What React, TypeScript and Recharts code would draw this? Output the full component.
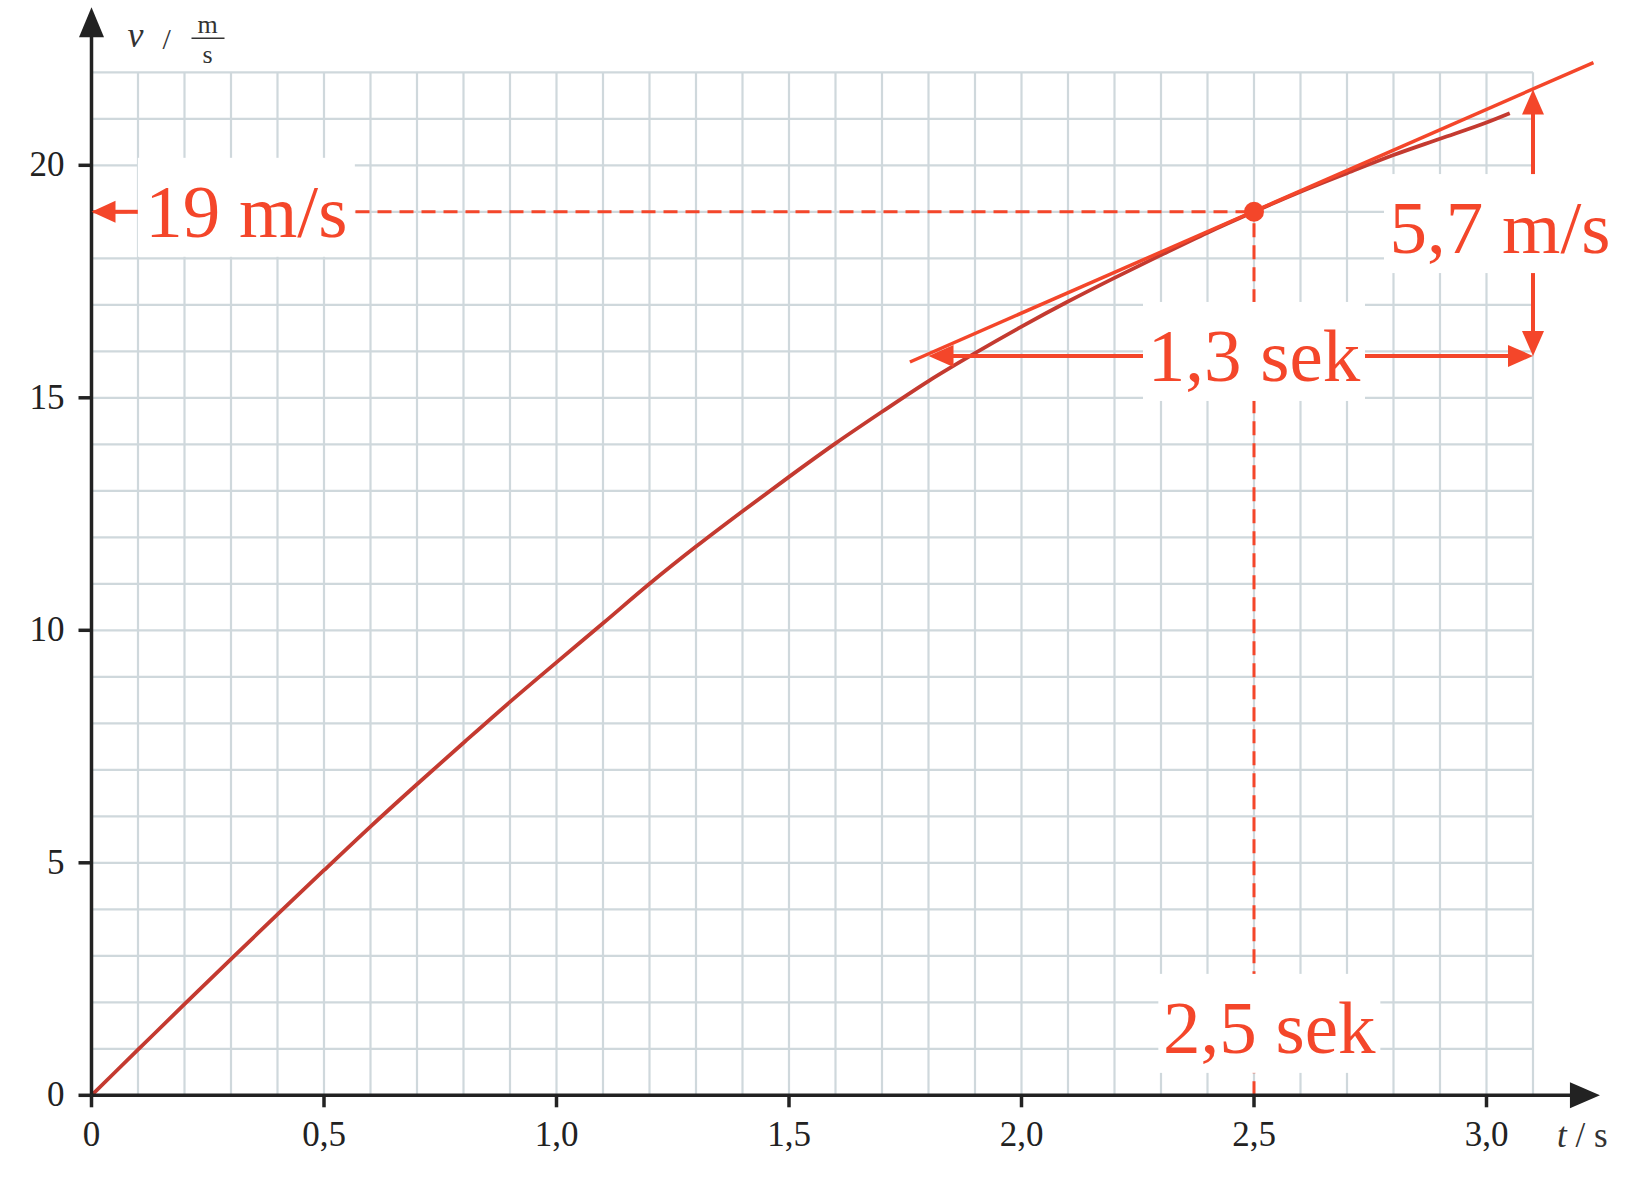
import React from 'react';
import {
  LineChart,
  Line,
  XAxis,
  YAxis,
  CartesianGrid,
  ReferenceLine,
  ReferenceDot
} from 'recharts';

// velocity curve (t in s, v in m/s)
const times = [0, 0.1, 0.2, 0.3, 0.4, 0.5, 0.6, 0.7, 0.8, 0.9, 1.0, 1.1, 1.2, 1.3, 1.4, 1.5, 1.6, 1.7, 1.8, 1.9, 2.0, 2.1, 2.2, 2.3, 2.4, 2.5, 2.6, 2.7, 2.8, 2.9, 3.0, 3.05];
const speeds = [0, 0.98, 1.96, 2.93, 3.89, 4.84, 5.78, 6.69, 7.58, 8.46, 9.31, 10.15, 11.0, 11.8, 12.56, 13.3, 14.02, 14.7, 15.36, 15.96, 16.53, 17.07, 17.58, 18.07, 18.55, 19.0, 19.43, 19.83, 20.22, 20.57, 20.92, 21.12];

// grid lines (every 0.1 s and every 1 m/s)
const xGridTicks = [0, 0.1, 0.2, 0.3, 0.4, 0.5, 0.6, 0.7, 0.8, 0.9, 1.0, 1.1, 1.2, 1.3, 1.4, 1.5, 1.6, 1.7, 1.8, 1.9, 2.0, 2.1, 2.2, 2.3, 2.4, 2.5, 2.6, 2.7, 2.8, 2.9, 3.0, 3.1];
const yGridTicks = [0, 1, 2, 3, 4, 5, 6, 7, 8, 9, 10, 11, 12, 13, 14, 15, 16, 17, 18, 19, 20, 21, 22];

const xMajorTicks = [0, 0.5, 1.0, 1.5, 2.0, 2.5, 3.0];
const xTickLabels = ['0', '0,5', '1,0', '1,5', '2,0', '2,5', '3,0'];
const yMajorTicks = [0, 5, 10, 15, 20];
const yTickLabels = ['0', '5', '10', '15', '20'];

// tangent at t = 2,5 s and the slope triangle
const pointT = 2.5;
const pointV = 19;
const tangentStart = { t: 1.76, v: 15.77 };
const tangentEnd = { t: 3.23, v: 22.21 };
const triangleLeftT = 1.8;
const triangleRightT = 3.1;
const triangleBottomV = 15.9;
const triangleTopV = 21.63;

// arrow tips of the axes
const xAxisEnd = 3.244;
const yAxisEnd = 23.4;

const chartData = times.map((t, i) => ({ t, v: speeds[i] }));

const RED = '#f4462a';
const CURVE = '#c43a30';
const INK = '#222';
const GRID = '#cfd8dc';
const SERIF = '"Liberation Serif", "Times New Roman", serif';

const near = (a: number, b: number) => Math.abs(a - b) < 1e-6;

const XTick = (props: any) => {
  const { x, y, payload } = props;
  const idx = xMajorTicks.findIndex((m) => near(m, payload.value));
  if (idx < 0) return <g />;
  return (
    <g>
      <line x1={x} y1={y} x2={x} y2={y + 12} stroke={INK} strokeWidth={3.5} />
      <text x={x} y={y + 51} textAnchor="middle" fontFamily={SERIF} fontSize={35} fill={INK}>
        {xTickLabels[idx]}
      </text>
    </g>
  );
};

const YTick = (props: any) => {
  const { x, y, payload } = props;
  const idx = yMajorTicks.findIndex((m) => near(m, payload.value));
  if (idx < 0) return <g />;
  return (
    <g>
      <line x1={x} y1={y} x2={x - 13} y2={y} stroke={INK} strokeWidth={3.5} />
      <text x={x - 27} y={y + 11} textAnchor="end" fontFamily={SERIF} fontSize={35} fill={INK}>
        {yTickLabels[idx]}
      </text>
    </g>
  );
};

// line with arrow head(s), drawn from the endpoints that ReferenceLine computes
const arrowShape = (both: boolean, color: string, width: number, headLen: number, headHalf: number) => (p: any) => {
  const x1 = Number(p.x1), y1 = Number(p.y1), x2 = Number(p.x2), y2 = Number(p.y2);
  const len = Math.hypot(x2 - x1, y2 - y1) || 1;
  const ux = (x2 - x1) / len;
  const uy = (y2 - y1) / len;
  const head = (tx: number, ty: number, dx: number, dy: number) => {
    const bx = tx - dx * headLen;
    const by = ty - dy * headLen;
    return `${tx},${ty} ${bx - dy * headHalf},${by + dx * headHalf} ${bx + dy * headHalf},${by - dx * headHalf}`;
  };
  const sx = both ? x1 + ux * headLen * 0.7 : x1;
  const sy = both ? y1 + uy * headLen * 0.7 : y1;
  return (
    <g>
      <line x1={sx} y1={sy} x2={x2 - ux * headLen * 0.7} y2={y2 - uy * headLen * 0.7} stroke={color} strokeWidth={width} />
      <polygon points={head(x2, y2, ux, uy)} fill={color} />
      {both && <polygon points={head(x1, y1, -ux, -uy)} fill={color} />}
    </g>
  );
};

const boxLabel = (text: string, boxWidth: number) => (p: any) => (
  <g>
    <rect x={p.cx - boxWidth / 2} y={p.cy - 54} width={boxWidth} height={99} fill="#fff" />
    <text x={p.cx} y={p.cy + 25} textAnchor="middle" fontFamily={SERIF} fontSize={75} fill={RED}>
      {text}
    </text>
  </g>
);

const yTitle = (p: any) => (
  <g fontFamily={SERIF} fill="#333">
    <text x={p.cx + 36} y={p.cy + 40} fontSize={36} fontStyle="italic">v</text>
    <text x={p.cx + 71} y={p.cy + 42} fontSize={30}>/</text>
    <text x={p.cx + 116} y={p.cy + 26} fontSize={26} textAnchor="middle">m</text>
    <line x1={p.cx + 100} y1={p.cy + 31} x2={p.cx + 133} y2={p.cy + 31} stroke="#333" strokeWidth={1.6} />
    <text x={p.cx + 116} y={p.cy + 56} fontSize={26} textAnchor="middle">s</text>
  </g>
);

const xTitle = (p: any) => (
  <text x={p.cx - 43} y={p.cy + 52} fontFamily={SERIF} fontSize={35} fill="#333">
    <tspan fontStyle="italic">t</tspan>
    <tspan> / s</tspan>
  </text>
);

const App: React.FC = () => {
  return (
    <div style={{ position: 'absolute', left: 0, top: 0, width: 1634, height: 1179, background: '#fff' }}>
      <LineChart
        width={1634}
        height={1179}
        data={chartData}
        margin={{ top: 72.3, right: 101, bottom: 82.7, left: 90.5 }}
      >
        <CartesianGrid stroke={GRID} strokeWidth={2.2} />
        <XAxis
          type="number"
          dataKey="t"
          domain={[0, 3.1]}
          ticks={xGridTicks}
          interval={0}
          height={1}
          axisLine={false}
          tickLine={false}
          tickSize={0}
          tickMargin={0}
          tick={<XTick />}
        />
        <YAxis
          type="number"
          domain={[0, 22]}
          ticks={yGridTicks}
          interval={0}
          width={1}
          axisLine={false}
          tickLine={false}
          tickSize={0}
          tickMargin={0}
          tick={<YTick />}
        />

        {/* dashed guides to the point */}
        <ReferenceLine
          segment={[{ x: 0, y: pointV }, { x: pointT, y: pointV }]}
          stroke={RED}
          strokeWidth={3}
          strokeDasharray="14 8"
          ifOverflow="visible"
        />
        <ReferenceLine
          segment={[{ x: pointT, y: 0 }, { x: pointT, y: pointV }]}
          stroke={RED}
          strokeWidth={3}
          strokeDasharray="14 8"
          ifOverflow="visible"
        />

        <Line
          type="monotone"
          dataKey="v"
          stroke={CURVE}
          strokeWidth={3.8}
          dot={false}
          activeDot={false}
          isAnimationActive={false}
        />

        {/* tangent */}
        <ReferenceLine
          segment={[{ x: tangentStart.t, y: tangentStart.v }, { x: tangentEnd.t, y: tangentEnd.v }]}
          stroke={RED}
          strokeWidth={3.5}
          ifOverflow="visible"
        />

        {/* slope triangle */}
        <ReferenceLine
          segment={[{ x: triangleLeftT, y: triangleBottomV }, { x: triangleRightT, y: triangleBottomV }]}
          ifOverflow="visible"
          shape={arrowShape(true, RED, 4, 25, 11)}
        />
        <ReferenceLine
          segment={[{ x: triangleRightT, y: triangleBottomV }, { x: triangleRightT, y: triangleTopV }]}
          ifOverflow="visible"
          shape={arrowShape(true, RED, 4, 25, 11)}
        />

        {/* axes with arrows */}
        <ReferenceLine
          segment={[{ x: 0, y: 0 }, { x: xAxisEnd, y: 0 }]}
          ifOverflow="visible"
          shape={arrowShape(false, INK, 3.5, 30, 13)}
        />
        <ReferenceLine
          segment={[{ x: 0, y: 0 }, { x: 0, y: yAxisEnd }]}
          ifOverflow="visible"
          shape={arrowShape(false, INK, 3.5, 30, 12.5)}
        />

        {/* labels on white boxes */}
        <ReferenceDot x={0.333} y={pointV} ifOverflow="visible" shape={boxLabel('19 m/s', 217)} />
        <ReferenceDot x={3.029} y={18.65} ifOverflow="visible" shape={boxLabel('5,7 m/s', 232)} />
        <ReferenceDot x={pointT} y={triangleBottomV} ifOverflow="visible" shape={boxLabel('1,3 sek', 222)} />
        <ReferenceDot x={2.533} y={1.45} ifOverflow="visible" shape={boxLabel('2,5 sek', 222)} />

        <ReferenceLine
          segment={[{ x: 0.1, y: pointV }, { x: 0, y: pointV }]}
          ifOverflow="visible"
          shape={arrowShape(false, RED, 4, 24, 11)}
        />

        <ReferenceDot x={pointT} y={pointV} r={10} fill={RED} stroke="none" ifOverflow="visible" />

        {/* axis titles */}
        <ReferenceDot x={0} y={yAxisEnd} ifOverflow="visible" shape={yTitle} />
        <ReferenceDot x={xAxisEnd} y={0} ifOverflow="visible" shape={xTitle} />
      </LineChart>
    </div>
  );
};

export default App;
